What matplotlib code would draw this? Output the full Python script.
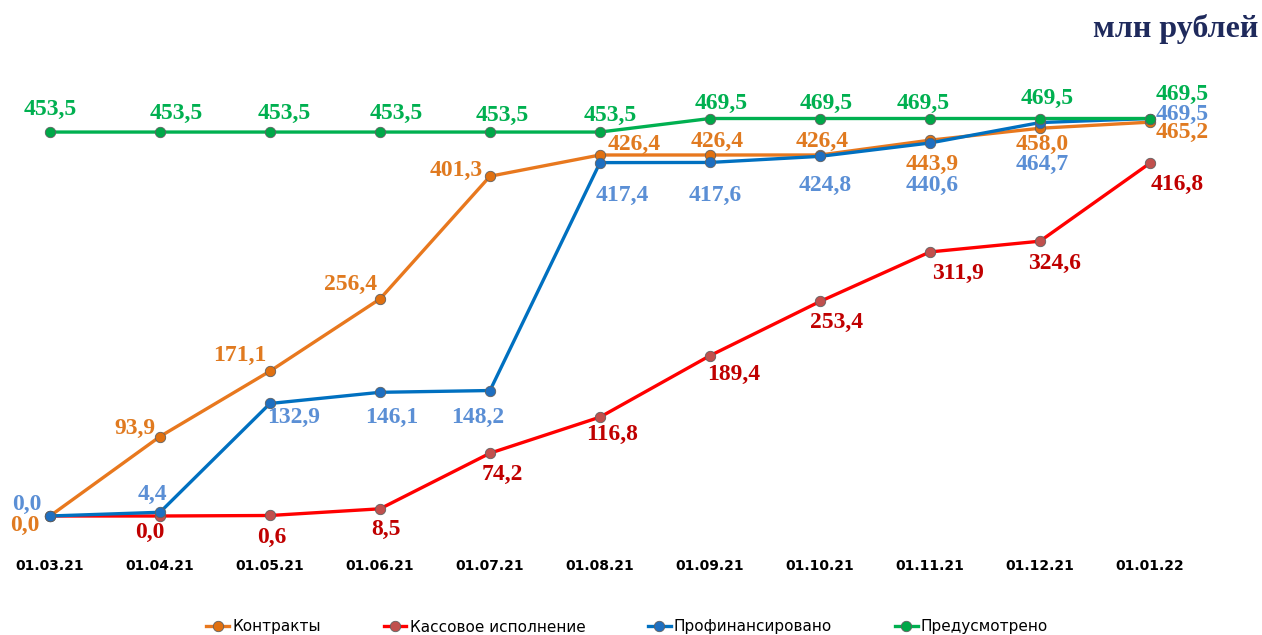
import matplotlib.pyplot as plt

# данные
dates = ['01.03.21', '01.04.21', '01.05.21', '01.06.21', '01.07.21', '01.08.21',
         '01.09.21', '01.10.21', '01.11.21', '01.12.21', '01.01.22']
contracts = [0.0, 93.9, 171.1, 256.4, 401.3, 426.4, 426.4, 426.4, 443.9, 458.0, 465.2]
cash = [0.0, 0.0, 0.6, 8.5, 74.2, 116.8, 189.4, 253.4, 311.9, 324.6, 416.8]
financed = [0.0, 4.4, 132.9, 146.1, 148.2, 417.4, 417.6, 424.8, 440.6, 464.7, 469.5]
planned = [453.5, 453.5, 453.5, 453.5, 453.5, 453.5, 469.5, 469.5, 469.5, 469.5, 469.5]
names = ['Контракты', 'Кассовое исполнение', 'Профинансировано', 'Предусмотрено']

fig = plt.figure(figsize=(12.62, 6.35), dpi=100)
ax = fig.add_axes([0, 1 - 545 / 635, 1, (545 - 60) / 635])
ax.set_xlim(-50 / 110, (1262 - 50) / 110)
ax.set_ylim(-34.25, 538.6)
for s in ax.spines.values():
    s.set_visible(False)
ax.set_yticks([])
x = list(range(len(dates)))
ax.set_xticks(x)
ax.set_xticklabels(dates, fontsize=10, fontweight='bold', family='DejaVu Sans')
ax.tick_params(axis='x', length=0, pad=10)


def fmt(v):
    return f'{v:.1f}'.replace('.', ',')


series = [
    (contracts, '#E8781E', '#E07010', '#E07A20'),
    (cash, '#FF0000', '#C0504D', '#C00000'),
    (financed, '#0070C0', '#1F6FC0', '#5B8FD5'),
    (planned, '#00B050', '#00A848', '#00B050'),
]
lines = []
for i, (vals, lc, mc, tc) in enumerate(series):
    ln, = ax.plot(x, vals, color=lc, lw=2.4, marker='o', ms=7.5, mfc=mc,
                  mec='#606060', mew=0.6, zorder=2 + i, label=names[i])
    lines.append(ln)

# смещения центров подписей в пикселях (вверх +)
off_contracts = [(-25, -7), (-25, 11), (-30, 18), (-29, 16.5), (-34, 8), (34, 13),
                 (7, 16), (2, 16), (2, -22), (2, -14), (32, -8)]
off_cash = [(0, 0), (-10, -14), (2, -19), (6, -18.5), (12, -19), (12, -15),
            (24, -16), (17, -18), (28, -19), (15, -20), (27, -19)]
off_financed = [(-23, 14), (-8, 20), (24, -11), (12, -23), (-12, -24), (22, -30),
                (5, -31), (5, -27), (2, -40), (2, -39), (32, 7)]
off_planned = [(0, 25), (16, 21), (14, 21), (16, 21), (12, 19), (10, 19),
               (11, 18), (6, 18), (-7, 18), (7, 23), (32, 27)]
offsets = [off_contracts, off_cash, off_financed, off_planned]

half_cap = 8  # половина высоты цифр, px
for (vals, lc, mc, tc), offs in zip(series, offsets):
    for i, v in enumerate(vals):
        if vals is cash and i == 0:
            continue
        dx, dy = offs[i]
        ax.annotate(fmt(v), (x[i], v), xytext=(dx * 0.72, (dy - half_cap) * 0.72),
                    textcoords='offset points', ha='center', va='baseline',
                    fontsize=17, fontweight='bold', family='Liberation Serif',
                    color=tc, zorder=10)

fig.text(1258 / 1262, 1 - 37 / 635, 'млн рублей', ha='right', va='baseline',
         fontsize=23, fontweight='bold', family='Liberation Serif', color='#1F2A5C')

fig.legend(handles=lines, loc='center', bbox_to_anchor=(0.497, 1 - 627 / 635),
           ncol=4, frameon=False,
           prop={'family': ['DejaVu Sans'], 'size': 11},
           handlelength=1.5, handletextpad=0.2, columnspacing=4.1)

fig.savefig('out.png', dpi=100)
